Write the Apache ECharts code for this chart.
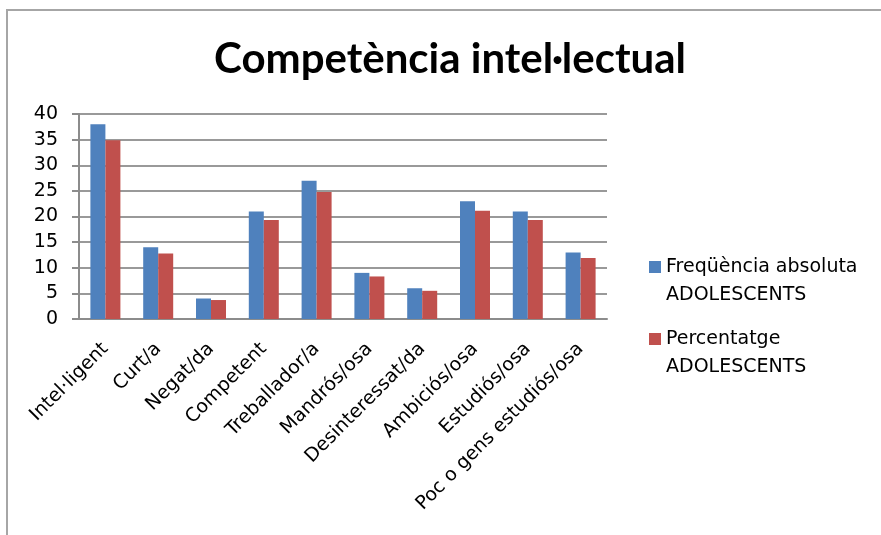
<!DOCTYPE html>
<html>
<head>
<meta charset="utf-8">
<script src="https://cdn.jsdelivr.net/npm/echarts@6/dist/echarts.min.js"></script>
<style>
  html, body { margin: 0; padding: 0; background: #fff; }
  #main { width: 881px; height: 535px; }
</style>
</head>
<body>
<div id="main"></div>
<script>
var categories = ['Intel·ligent', 'Curt/a', 'Negat/da', 'Competent', 'Treballador/a',
    'Mandrós/osa', 'Desinteressat/da', 'Ambiciós/osa', 'Estudiós/osa', 'Poc o gens estudiós/osa'];
var frequencia = [38, 14, 4, 21, 27, 9, 6, 23, 21, 13];
var percentatge = [34.9, 12.8, 3.7, 19.3, 24.8, 8.3, 5.5, 21.1, 19.3, 11.9];
var seriesNames = ['Freqüència absoluta\nADOLESCENTS', 'Percentatge\nADOLESCENTS'];

var myChart = echarts.init(document.getElementById('main'));
var titleFont = 'Lato, "Open Sans", sans-serif';
var font = '"DejaVu Sans", sans-serif';

// an empty first line keeps the square next to the first text line
function legendPart(name, top) {
    return {
        orient: 'vertical',
        left: 649,
        top: top,
        padding: 0,
        data: [name],
        itemWidth: 12,
        itemHeight: 12,
        icon: 'rect',
        formatter: function (n) { return '\n' + n; },
        textStyle: { fontFamily: font, fontSize: 19, color: '#000', lineHeight: 28 }
    };
}

var option = {
    animation: false,
    color: ['#4F81BD', '#C0504D'],
    title: {
        text: 'Competència intel·lectual',
        left: 445,
        textAlign: 'center',
        top: 33,
        textStyle: { fontFamily: titleFont, fontWeight: 'bold', fontSize: 42, color: '#000' }
    },
    // chart frame like the original
    graphic: [{
        type: 'rect',
        shape: { x: 7, y: 10, width: 900, height: 600 },
        style: { fill: 'none', stroke: '#a6a6a6', lineWidth: 2 },
        silent: true
    }],
    legend: [legendPart(seriesNames[0], 225), legendPart(seriesNames[1], 297)],
    grid: { left: 79, right: 274, top: 114, bottom: 216 },
    xAxis: {
        type: 'category',
        data: categories,
        axisLine: { lineStyle: { color: '#8c8c8c', width: 2 } },
        axisTick: { show: false },
        axisLabel: {
            rotate: 45, interval: 0, margin: 27,
            fontFamily: font, fontSize: 19, color: '#000'
        }
    },
    yAxis: {
        type: 'value',
        min: 0, max: 40, interval: 5,
        axisLine: { show: true, lineStyle: { color: '#8c8c8c', width: 2 } },
        axisTick: { show: true, length: 7, lineStyle: { color: '#8c8c8c', width: 2 } },
        splitLine: { lineStyle: { color: '#999', width: 2 } },
        axisLabel: { fontFamily: font, fontSize: 19, color: '#000', margin: 21 }
    },
    series: [{
        name: seriesNames[0],
        type: 'bar',
        data: frequencia,
        barWidth: 15,
        barGap: '0%'
    }, {
        name: seriesNames[1],
        type: 'bar',
        data: percentatge,
        barWidth: 15
    }]
};
myChart.setOption(option);
</script>
</body>
</html>
